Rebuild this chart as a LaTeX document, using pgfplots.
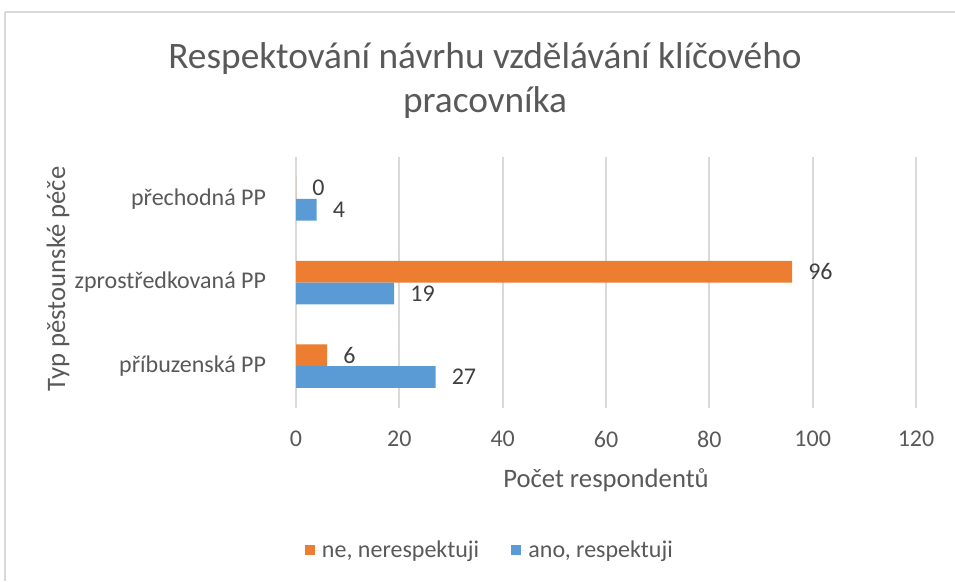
\documentclass[border=0pt]{standalone}
\usepackage{pgfplots}
\pgfplotsset{compat=1.18}
\usepackage{fontspec}
\setmainfont{Carlito}
\definecolor{orangeC}{HTML}{ED7D31}
\definecolor{blueC}{HTML}{5B9BD5}
\definecolor{textC}{HTML}{595959}
\definecolor{labelC}{HTML}{404040}
\definecolor{gridC}{HTML}{D9D9D9}
\newcommand{\fs}[1]{\fontsize{#1}{1.2\dimexpr#1\relax}\selectfont}
\begin{document}
\begin{tikzpicture}
\useasboundingbox (0pt,0pt) rectangle (716.25pt,-435.75pt);
\begin{scope}[x=0.75pt,y=-0.75pt]
\draw[gridC, line width=1.5pt] (5,12) -- (955,12);
\draw[gridC, line width=1.5pt] (5,12) -- (5,581);
\node[anchor=base, text=textC, font=\fs{28pt}] at (485,69) {Respektování návrhu vzdělávání klíčového};
\node[anchor=base, text=textC, font=\fs{28pt}] at (485,113) {pracovníka};
\node[anchor=base, text=textC, font=\fs{20pt}] at (606,487) {Počet respondentů};
\node[anchor=base, rotate=90, text=textC, font=\fs{20pt}] at (65,279) {Typ pěstounské péče};
\end{scope}
\begin{axis}[
  at={(222pt,-306pt)}, anchor=south west,
  scale only axis, width=465pt, height=188.25pt,
  xbar,
  xmin=0, xmax=120, ymin=-0.5, ymax=2.5,
  xtick={0,20,...,120},
  ytick={0,1,2},
  yticklabels={příbuzenská PP, zprostředkovaná PP, přechodná PP},
  /pgf/number format/assume math mode=true,
  axis line style={draw=none},
  tick style={draw=none},
  xmajorgrids,
  grid style={draw=gridC, line width=1.5pt},
  ticklabel style={font=\fs{18pt}, text=textC, inner sep=0pt},
  xticklabel style={yshift=-17pt},
  yticklabel style={xshift=-18pt},
  bar width=0.26,
  nodes near coords,
  every node near coord/.append style={anchor=west, inner sep=0pt, xshift=12pt, font=\fs{18pt}, text=labelC},
  legend style={at={(0.313,-0.566)}, anchor=center, draw=none, fill=none,
    font=\fs{18pt}, text=textC, legend columns=2,
    /tikz/every even column/.append style={column sep=22pt}},
  legend image code/.code={\fill[#1] (0pt,-3.75pt) rectangle (7.5pt,3.75pt); \path (0pt,0pt) -- (11pt,0pt);},
]
\addplot[fill=orangeC, draw=none, bar shift=0.13] coordinates {(6,0) (96,1) (0,2)};
\addlegendentry{ne, nerespektuji}
\addplot[fill=blueC, draw=none, bar shift=-0.13] coordinates {(27,0) (19,1) (4,2)};
\addlegendentry{ano, respektuji}
\end{axis}
\end{tikzpicture}
\end{document}
